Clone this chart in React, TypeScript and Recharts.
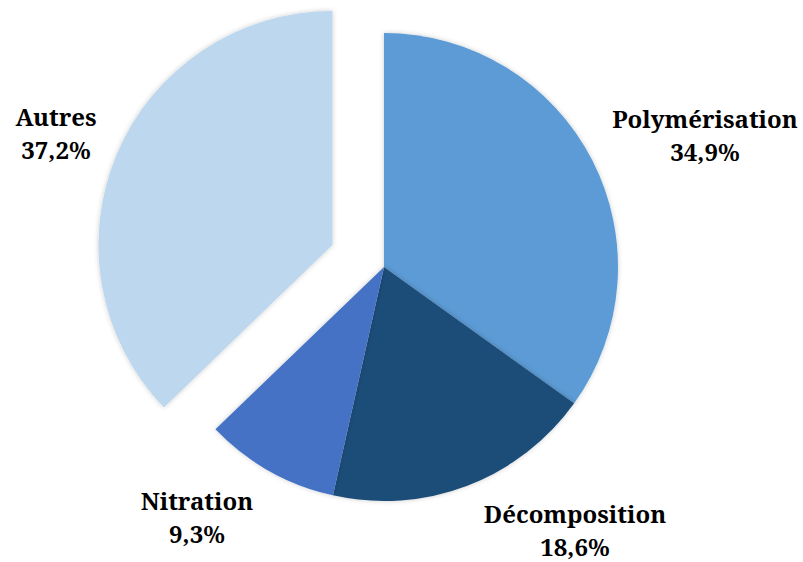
import React from "react";
import { PieChart, Pie, Cell } from "recharts";

const categories = ["Polymérisation", "Décomposition", "Nitration", "Autres"];
const values = [34.9, 18.6, 9.3, 37.2];
const valueLabels = ["34,9%", "18,6%", "9,3%", "37,2%"];
const colors = ["#5B9BD5", "#1F4E79", "#4472C4", "#BDD7EE"];
const explodedIndex = 3;

// label anchor (first-line baseline) layout
const labelLayout = [
  { x: 705, y: 128 },
  { x: 575, y: 523 },
  { x: 197, y: 510 },
  { x: 56, y: 126 },
];

const data = categories.map((name, i) => ({ name, value: values[i] }));

const CX = 384;
const CY = 267;
const R = 234;
const EXPLODE = 56;

const total = values.reduce((a, b) => a + b, 0);
const before = values.slice(0, explodedIndex).reduce((a, b) => a + b, 0);
const midFrac = (before + values[explodedIndex] / 2) / total;
const midDeg = 90 - midFrac * 360;
const ex = CX + EXPLODE * Math.cos((midDeg * Math.PI) / 180);
const ey = CY - EXPLODE * Math.sin((midDeg * Math.PI) / 180);

const SERIF = "Noto Serif, DejaVu Serif Condensed, serif";

const renderLabel = (props: any) => {
  const i = props.index;
  const pos = labelLayout[i];
  return (
    <text
      key={"lbl" + i}
      x={pos.x}
      y={pos.y}
      textAnchor="middle"
      fontFamily={SERIF}
      fontWeight="bold"
      fontSize={24}
      fill="#000"
    >
      <tspan x={pos.x} dy={0}>{categories[i]}</tspan>
      <tspan x={pos.x} dy={33}>{valueLabels[i]}</tspan>
    </text>
  );
};

export default function App() {
  return (
    <div style={{ position: "absolute", left: 0, top: 0 }}>
      <PieChart width={803} height={562} margin={{ top: 0, right: 0, bottom: 0, left: 0 }}>
        <defs>
          <filter id="sh" x="-20%" y="-20%" width="140%" height="140%">
            <feDropShadow dx="0" dy="0" stdDeviation="2.5" floodColor="#000" floodOpacity="0.2" />
          </filter>
        </defs>
        <Pie
          data={data}
          dataKey="value"
          nameKey="name"
          cx={CX}
          cy={CY}
          outerRadius={R}
          startAngle={90}
          endAngle={-270}
          stroke="none"
          isAnimationActive={false}
          labelLine={false}
          label={renderLabel}
        >
          {data.map((d, i) => (
            <Cell
              key={d.name}
              fill={i === explodedIndex ? "transparent" : colors[i]}
              stroke="none"
              filter={i === explodedIndex ? undefined : "url(#sh)"}
            />
          ))}
        </Pie>
        <Pie
          data={data}
          dataKey="value"
          nameKey="name"
          cx={ex}
          cy={ey}
          outerRadius={R}
          startAngle={90}
          endAngle={-270}
          stroke="none"
          isAnimationActive={false}
          labelLine={false}
          label={false}
        >
          {data.map((d, i) => (
            <Cell
              key={d.name}
              fill={i === explodedIndex ? colors[i] : "transparent"}
              stroke="none"
              filter={i === explodedIndex ? "url(#sh)" : undefined}
            />
          ))}
        </Pie>
      </PieChart>
    </div>
  );
}
